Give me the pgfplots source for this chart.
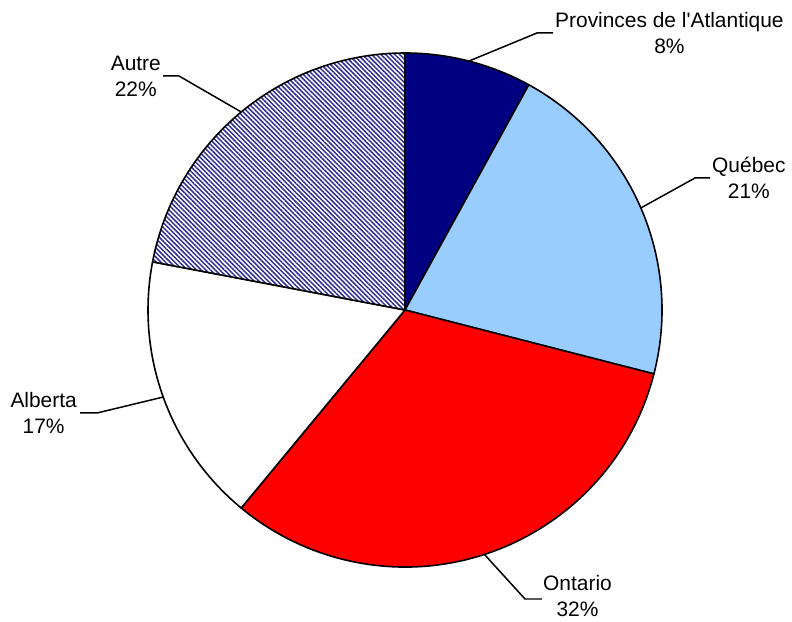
\documentclass[border=0pt]{standalone}
\usepackage{pgfplots}
\pgfplotsset{compat=1.18}
\usepackage{pgfplotstable}
\usepackage{fontspec}
\setmainfont{Liberation Sans}
\usetikzlibrary{patterns.meta}
\definecolor{atl}{RGB}{0,0,128}
\definecolor{que}{RGB}{153,204,255}
\definecolor{ont}{RGB}{255,0,0}
\definecolor{hatch}{RGB}{45,45,150}

\pgfplotstableread{
label value
Atl 8
Que 21
Ont 32
Alb 17
Aut 22
}\piedata

\newcommand\getval[2]{\pgfplotstablegetelem{#1}{value}\of\piedata\global\let#2\pgfplotsretval}

\begin{document}
\begin{tikzpicture}
\getval{0}\vA
\getval{1}\vB
\getval{2}\vC
\getval{3}\vD
\getval{4}\vE
\pgfmathsetmacro\aA{90}
\pgfmathsetmacro\aB{\aA-3.6*\vA}
\pgfmathsetmacro\aC{\aB-3.6*\vB}
\pgfmathsetmacro\aD{\aC-3.6*\vC}
\pgfmathsetmacro\aE{\aD-3.6*\vD}
\pgfmathsetmacro\aF{\aE-3.6*\vE}
\begin{axis}[
  scale only axis, width=792bp, height=622bp,
  xmin=0, xmax=792, ymin=0, ymax=622,
  hide axis, clip=false,
]
% slices
\filldraw[fill=atl, draw=black, line width=1.6pt, line join=round]
  (axis cs:405,312) -- ++(\aA:257bp) arc[start angle=\aA, end angle=\aB, radius=257bp] -- cycle;
\filldraw[fill=que, draw=black, line width=1.6pt, line join=round]
  (axis cs:405,312) -- ++(\aB:257bp) arc[start angle=\aB, end angle=\aC, radius=257bp] -- cycle;
\filldraw[fill=ont, draw=black, line width=1.6pt, line join=round]
  (axis cs:405,312) -- ++(\aC:257bp) arc[start angle=\aC, end angle=\aD, radius=257bp] -- cycle;
\filldraw[fill=white, draw=black, line width=1.6pt, line join=round]
  (axis cs:405,312) -- ++(\aD:257bp) arc[start angle=\aD, end angle=\aE, radius=257bp] -- cycle;
\fill[white]
  (axis cs:405,312) -- ++(\aE:257bp) arc[start angle=\aE, end angle=\aF, radius=257bp] -- cycle;
\path[pattern={Lines[angle=-45,distance=3.3pt,line width=1.5pt]}, pattern color=hatch]
  (axis cs:405,312) -- ++(\aE:257bp) arc[start angle=\aE, end angle=\aF, radius=257bp] -- cycle;
\draw[black, line width=1.6pt, line join=round]
  (axis cs:405,312) -- ++(\aE:257bp) arc[start angle=\aE, end angle=\aF, radius=257bp] -- cycle;
% leader lines
\draw[black, line width=1.5pt] (axis cs:405,312) ++({\aA-1.8*\vA}:257bp) -- (axis cs:537,589) -- (axis cs:553,589);
\draw[black, line width=1.5pt] (axis cs:405,312) ++({\aB-1.8*\vB}:257bp) -- (axis cs:695,444) -- (axis cs:710,444);
\draw[black, line width=1.5pt] (axis cs:405,312) ++({\aC-1.8*\vC}:257bp) -- (axis cs:525,23) -- (axis cs:542,23);
\draw[black, line width=1.5pt] (axis cs:405,312) ++({\aD-1.8*\vD}:257bp) -- (axis cs:97,209) -- (axis cs:80,209);
\draw[black, line width=1.5pt] (axis cs:405,312) ++({\aE-1.8*\vE}:257bp) -- (axis cs:179,546) -- (axis cs:163,546);
% labels
\tikzset{lab/.style={font=\fontsize{21}{26}\selectfont, align=center, inner sep=0pt}}
\node[lab, anchor=west] at (axis cs:555,589) {Provinces de l\textquotesingle Atlantique\\8\%};
\node[lab, anchor=west] at (axis cs:712,444) {Québec\\21\%};
\node[lab, anchor=west] at (axis cs:543,26) {Ontario\\32\%};
\node[lab, anchor=east] at (axis cs:77,209) {Alberta\\17\%};
\node[lab, anchor=east] at (axis cs:161,546) {Autre\\22\%};
\end{axis}
\pgfresetboundingbox
\path (0,0) rectangle (792bp,622bp);
\end{tikzpicture}
\end{document}
